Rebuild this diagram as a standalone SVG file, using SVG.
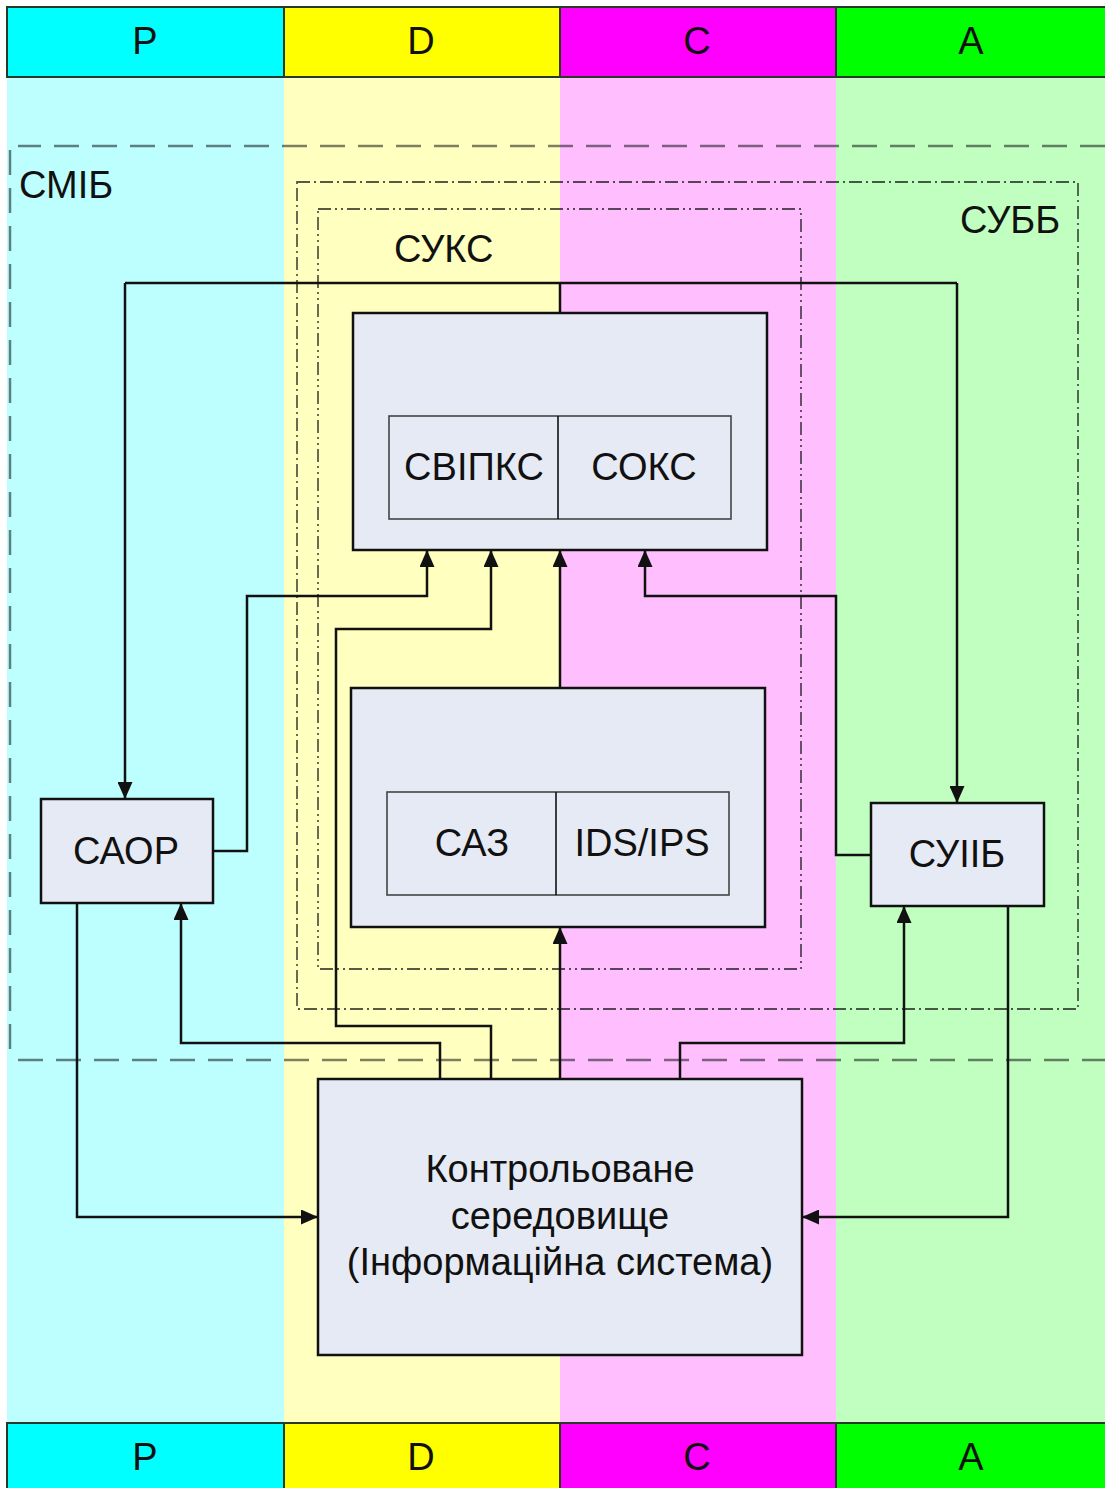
<svg xmlns="http://www.w3.org/2000/svg" width="1105" height="1488" viewBox="0 0 1105 1488">
<defs>
<style>
.t{font-family:"Liberation Sans",Arial,sans-serif;fill:#111;}
.hd{stroke:#2a3a2a;stroke-width:2;}
.box{fill:#E6EAF4;stroke:#111;stroke-width:2.5;}
.ibox{fill:#E6EAF4;stroke:#444;stroke-width:1.6;}
.cn{fill:none;stroke:#111;stroke-width:2.5;}
.dash{fill:none;stroke:#000;stroke-opacity:0.5;stroke-width:2.5;stroke-dasharray:25 13;}
.dd1{fill:none;stroke:#000;stroke-opacity:0.65;stroke-width:1.8;stroke-dasharray:13 4 2 4;}
.dd2{fill:none;stroke:#000;stroke-opacity:0.65;stroke-width:1.8;stroke-dasharray:13 4 2 4 2 4;}
</style>
<marker id="ar" viewBox="0 0 17 15" refX="17" refY="7.5" markerWidth="17" markerHeight="15" markerUnits="userSpaceOnUse" orient="auto">
<path d="M0,0 L17,7.5 L0,15 Z" fill="#111"/>
</marker>
</defs>
<rect x="0" y="0" width="1105" height="1488" fill="#fff"/>
<g id="lanes">
<rect x="7" y="77" width="277" height="1346" fill="#BDFFFF"/>
<rect x="284" y="77" width="276" height="1346" fill="#FFFFC0"/>
<rect x="560" y="77" width="276" height="1346" fill="#FFBFFF"/>
<rect x="836" y="77" width="269" height="1346" fill="#C0FFC0"/>
</g>
<g id="header-top">
<rect class="hd" x="7" y="7" width="277" height="70" fill="#00FFFF"/>
<rect class="hd" x="284" y="7" width="276" height="70" fill="#FFFF00"/>
<rect class="hd" x="560" y="7" width="276" height="70" fill="#FF00FF"/>
<rect class="hd" x="836" y="7" width="272" height="70" fill="#00FF00"/>
<text class="t" x="145" y="54" font-size="38" text-anchor="middle">P</text>
<text class="t" x="421" y="54" font-size="38" text-anchor="middle">D</text>
<text class="t" x="697" y="54" font-size="38" text-anchor="middle">C</text>
<text class="t" x="971" y="54" font-size="38" text-anchor="middle">A</text>
</g>
<g id="header-bottom">
<rect class="hd" x="7" y="1423" width="277" height="70" fill="#00FFFF"/>
<rect class="hd" x="284" y="1423" width="276" height="70" fill="#FFFF00"/>
<rect class="hd" x="560" y="1423" width="276" height="70" fill="#FF00FF"/>
<rect class="hd" x="836" y="1423" width="272" height="70" fill="#00FF00"/>
<text class="t" x="145" y="1470" font-size="38" text-anchor="middle">P</text>
<text class="t" x="421" y="1470" font-size="38" text-anchor="middle">D</text>
<text class="t" x="697" y="1470" font-size="38" text-anchor="middle">C</text>
<text class="t" x="971" y="1470" font-size="38" text-anchor="middle">A</text>
</g>
<g id="smib">
<path class="dash" d="M1105,146 H18 M10,150 V1060 M18,1060 H1105"/>
<text class="t" x="19" y="198" font-size="38">СМІБ</text>
</g>
<g id="subb">
<rect class="dd1" x="297" y="182" width="781" height="827"/>
<text class="t" x="960" y="233" font-size="38">СУББ</text>
</g>
<g id="suks">
<rect class="dd2" x="318" y="209" width="483" height="760"/>
<text class="t" x="394" y="262" font-size="38">СУКС</text>
</g>
<g id="connectors">
<path class="cn" d="M560,312 V283 M125,283 H957"/>
<path class="cn" d="M125,283 V799" marker-end="url(#ar)"/>
<path class="cn" d="M957,283 V803" marker-end="url(#ar)"/>
<path class="cn" d="M213,851 H247 V596 H427 V550" marker-end="url(#ar)"/>
<path class="cn" d="M491,1079 V1026 H336 V629 H491 V550" marker-end="url(#ar)"/>
<path class="cn" d="M560,688 V550" marker-end="url(#ar)"/>
<path class="cn" d="M871,855 H836 V596 H645 V550" marker-end="url(#ar)"/>
<path class="cn" d="M560,1079 V927" marker-end="url(#ar)"/>
<path class="cn" d="M440,1079 V1043 H181 V903" marker-end="url(#ar)"/>
<path class="cn" d="M680,1079 V1043 H904 V906" marker-end="url(#ar)"/>
<path class="cn" d="M77,903 V1217 H318" marker-end="url(#ar)"/>
<path class="cn" d="M1008,906 V1217 H802" marker-end="url(#ar)"/>
</g>
<g id="node-top">
<rect class="box" x="353" y="313" width="414" height="237"/>
<rect class="ibox" x="389" y="416" width="342" height="103"/>
<line x1="558" y1="416" x2="558" y2="519" stroke="#111" stroke-width="1.6"/>
<text class="t" x="474" y="480" font-size="38" text-anchor="middle">СВІПКС</text>
<text class="t" x="644" y="480" font-size="38" text-anchor="middle">СОКС</text>
</g>
<g id="node-mid">
<rect class="box" x="351" y="688" width="414" height="239"/>
<rect class="ibox" x="387" y="792" width="342" height="103"/>
<line x1="556" y1="792" x2="556" y2="895" stroke="#111" stroke-width="1.6"/>
<text class="t" x="472" y="856" font-size="38" text-anchor="middle">САЗ</text>
<text class="t" x="642" y="856" font-size="38" text-anchor="middle">IDS/IPS</text>
</g>
<g id="node-caor">
<rect class="box" x="41" y="799" width="172" height="104"/>
<text class="t" x="126" y="864" font-size="38" text-anchor="middle">САОР</text>
</g>
<g id="node-suiib">
<rect class="box" x="871" y="803" width="173" height="103"/>
<text class="t" x="957" y="867" font-size="38" text-anchor="middle">СУІІБ</text>
</g>
<g id="node-env">
<rect class="box" x="318" y="1079" width="484" height="276"/>
<text class="t" x="560" y="1182" font-size="38" text-anchor="middle">Контрольоване</text>
<text class="t" x="560" y="1229" font-size="38" text-anchor="middle">середовище</text>
<text class="t" x="560" y="1275" font-size="38" text-anchor="middle">(Інформаційна система)</text>
</g>
</svg>
